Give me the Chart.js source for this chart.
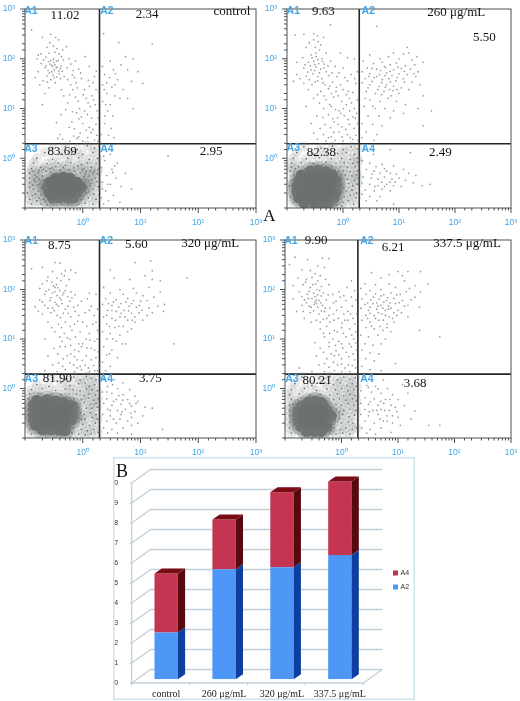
<!DOCTYPE html>
<html>
<head>
<meta charset="utf-8">
<title>Apoptosis flow plots</title>
<script src="https://cdn.jsdelivr.net/npm/chart.js@4/dist/chart.umd.min.js"></script>
<style>
  html, body { margin: 0; padding: 0; background: #fff; }
  body { position: relative; width: 520px; height: 701px; overflow: hidden; }
  canvas { position: absolute; display: block; }
</style>
</head>
<body>
<canvas id="panelControl"></canvas>
<canvas id="panel260"></canvas>
<canvas id="panel320"></canvas>
<canvas id="panel3375"></canvas>
<canvas id="stackChart"></canvas>
<script>
// ---- data ----
const tickValues = [1, 10, 100, 1000];
const tickLabels = ['10⁰', '10¹', '10²', '10³'];
const gate = 1.95;

const quadrantNames = ['A1', 'A2', 'A3', 'A4'];
const controlPercents = ['11.02', '2.34', '83.69', '2.95'];
const percents260 = ['9.63', '5.50', '82.38', '2.49'];
const percents320 = ['8.75', '5.60', '81.90', '3.75'];
const percents3375 = ['9.90', '6.21', '80.21', '3.68'];

const categories = ['control', '260 μg/mL', '320 μg/mL', '337.5 μg/mL'];
const a2Values = [2.34, 5.5, 5.6, 6.21];
const a4Values = [2.95, 2.49, 3.75, 3.68];

const controlSparse = [
  [.13,380],[.2,270],[.28,310],[.34,270],[.38,240],[.27,210],[.31,180],[.24,170],[.36,160],[.45,150],[.52,175],[.19,125],[.26,130],[.33,135],[.39,125],[.43,110],[.16,100],[.21,95],[.28,92],[.31,98],[.35,90],[.46,95],[.58,100],[.19,80],[.23,72],[.27,78],[.3,70],[.33,75],[.36,68],[.42,72],[.62,78],[.75,90],[1.1,110],[.17,55],[.25,58],[.29,55],[.32,60],[.39,50],[.44,56],[.68,58],[.85,62],[1.3,70],[.15,42],[.24,45],[.28,38],[.32,42],[.41,40],[.55,38],[.72,42],[.95,40],[1.6,44],[.18,30],[.26,26],[.43,24],[.62,30],[.8,26],[1.3,28],[1.7,24],[.22,20],[.47,18],[.75,17],[1.15,16],[1.45,18],[.2,12],[.55,13],[.88,10],[1.35,11],[1.65,12],[.42,7.5],[.78,8.2],[.95,6.8],[1.2,7.6],[1.85,6.5],[.35,5.2],[.65,5.4],[1,5],[1.3,4.2],[1.7,4.8],[.4,3],[.7,2.8],[.9,3.2],[1.4,3.3],[1.75,2.9],[.45,2.4],[.6,2.2],[.8,2.5],[1,2.2],[1.6,2.3],
  [2.3,320],[4.2,210],[16,200],[5.5,110],[7.5,100],[3,90],[4.6,75],[2.2,70],[3.4,60],[9,55],[2.4,48],[2.9,42],[4,38],[7,35],[11,32],[2.2,30],[3.2,27],[5,24],[2.6,20],[3.6,18],[6,16],[2.2,14],[3,12],[2.7,9],[7.5,10],[3.3,7],[2.4,5],[3.1,4],[2.1,3],[3.5,2.6],
  [2.2,1.6],[3,1.2],[2.4,.9],[4,.8],[2.1,.65],[3.2,.6],[5.5,.5],[2.6,.45],[3.8,.4],[2.2,.33],[3,.3],[4.6,.27],[7,.24],[2.5,.22],[3.4,.18],[2.1,.16],[2.8,.14],[4.4,.13],[2.3,.12],[30,1.1]
];
const controlExtra = [
  [.17,118],[.23,108],[.255,88],[.29,74],[.315,84],[.345,66],[.375,92],[.41,64],[.265,52],[.225,66],[.305,47],[.355,43],[.385,57],[.205,36],[.245,34],[.335,33],[.475,44],[.535,66],[.66,47],[.77,33],[.92,52],[1.07,24],[1.25,37],[1.52,33],[1.72,56],[1.88,22],[.59,19],[.67,24],[.83,14],[1.02,19],[1.24,13],[1.55,15],[1.78,9],[.51,9.5],[.66,8.6],[.86,6.2],[1.08,9],[1.42,6.4],[.72,3.9],[.58,4.2],[1.15,3.7],[1.5,3.8],[.85,2.7],[1.22,2.6],[.37,2.5],[1.85,2.2],[2.6,33],[3.7,50],[2.35,24],[4.4,16],[2.5,12],[3.6,30],[6,60],[2.8,2.9],[2.4,7],[2.3,1.1],[3.6,.7],[2.7,.3],[2.2,.24],[3.3,.52]
];
const controlFringe = [
  [.3,1.6],[.5,1.7],[.8,1.5],[1.2,1.8],[1.6,1.6],[.22,1.3],[.42,1.2],[.65,1.3],[1,1.2],[1.5,1.3],[.16,1],[.3,.95],[.55,1],[.85,1.02],[1.3,.95],[1.8,1],[.14,.8],[.24,.78],[.38,.8],[.62,.82],[.95,.75],[1.2,.8],[1.7,.78],[.13,.62],[.19,.66],[.3,.64],[.46,.66],[.7,.64],[1.05,.62],[1.4,.66],[1.85,.6],[.12,.5],[.17,.52],[.23,.55],[.9,.52],[1.15,.54],[1.5,.5],[1.8,.48],[.12,.4],[.16,.42],[.2,.44],[1.05,.42],[1.3,.44],[1.65,.4],[.12,.32],[.15,.34],[.18,.3],[1.1,.33],[1.4,.31],[1.75,.34],[.12,.26],[.14,.24],[.19,.25],[1.2,.26],[1.5,.24],[1.85,.27],[.11,.2],[.15,.19],[.19,.18],[1.15,.2],[1.55,.19],[.12,.15],[.16,.14],[.21,.15],[.95,.15],[1.25,.16],[1.7,.15],[.13,.12],[.19,.12],[.28,.125],[.42,.12],[.62,.125],[.85,.12],[1.1,.125],[1.5,.12],[.24,.115],[.35,.13],[.5,.13],[.75,.135],
  [.135,.55],[.15,.46],[.175,.57],[.21,.6],[.27,.62],[.34,.68],[.41,.58],[.5,.72],[.58,.6],[.72,.56],[.82,.7],[.98,.58],[.145,.37],[.175,.38],[.2,.36],[.135,.29],[.165,.29],[.2,.28],[.215,.22],[.17,.22],[.135,.18],[.175,.16],[.22,.135],[.31,.118],[.45,.135],[.56,.118],[.7,.13],[.8,.14],[.9,.18],[1.02,.17],[1.05,.22],[1.25,.21],[1.35,.28],[1.15,.37],[1.25,.35],[1.42,.37],[1.1,.47],[1.35,.56],[1.6,.55],[.28,.52]
];
const controlCore = [
  [.34,.4],[.46,.42],[.6,.4],[.26,.33],[.34,.33],[.46,.33],[.6,.33],[.8,.33],[.24,.26],[.34,.26],[.46,.26],[.6,.26],[.8,.26],[.95,.26],[.26,.2],[.34,.2],[.46,.2],[.6,.2],[.8,.2],[.3,.16],[.4,.16],[.55,.16],[.7,.16]
];
const controlSpecks = [[.32,.36],[.5,.3],[.7,.28],[.42,.22],[.62,.18],[.28,.24],[.85,.34],[.37,.17]];

const sparse260 = [
  [.2,310],[.3,320],[.35,290],[.45,270],[.6,480],[.14,300],[.3,240],[.36,220],[.4,190],[.22,170],[.32,170],[.38,150],[.5,130],[.9,130],[.19,105],[.27,120],[.33,110],[.42,100],[.15,85],[.24,85],[.3,90],[.37,80],[.46,78],[.6,90],[1.2,105],[1.6,100],[.2,65],[.27,60],[.33,68],[.4,62],[.5,55],[.72,70],[1,65],[.15,48],[.22,45],[.29,50],[.36,44],[.42,40],[.56,46],[.85,52],[1.4,48],[1.8,55],[.13,35],[.2,32],[.28,30],[.35,36],[.48,30],[.65,34],[.9,30],[1.2,36],[1.7,32],[.24,24],[.4,22],[.55,25],[.75,22],[1,24],[1.5,21],[.3,16],[.5,15],[.68,17],[.95,14],[1.3,16],[1.8,15],[.22,11],[.45,10],[.62,11],[.85,9],[1.15,12],[1.6,10],[.34,7],[.55,7.5],[.8,6.5],[1.05,7.2],[1.5,6.8],[.27,5],[.48,4.8],[.7,5.4],[.95,4.3],[1.3,4.8],[1.8,5],[.3,3.2],[.45,3],[.62,2.7],[.85,3.4],[1.2,3],[1.7,2.9],[.35,2.4],[.5,2.2],[.55,2.6],[.72,2.3],[1,2.2],[1.5,2.4],
  [4,450],[14,170],[8,130],[12,125],[15,130],[21,110],[3,120],[4.6,100],[6.5,110],[10,100],[17,95],[27,85],[2.3,90],[3.5,80],[5,85],[7,75],[9,82],[13,72],[19,76],[2.7,65],[4,62],[5.8,66],[8,60],[11,64],[16,62],[22,55],[2.2,55],[3,50],[4.5,48],[6,52],[7.5,46],[10,50],[14,48],[20,44],[2.5,40],[3.6,42],[5,38],[6.6,40],[8.8,36],[12,40],[17,34],[24,30],[2.2,33],[3,30],[4.4,28],[6,30],[8,28],[11,26],[15,24],[27,18],[2.6,22],[3.8,20],[5.4,22],[7.2,18],[10,20],[3,15],[4.6,14],[6.4,16],[9,14],[13,12],[22,10],[2.4,11],[3.8,10],[5.6,10],[8,9],[12,8],[38,9],[2.8,7],[4.4,7],[7,6.5],[2.2,5],[3.4,4.8],[5,4.5],[27,4.5],[2.6,3.4],[4,3],[2.2,2.6],[3.6,2.3],
  [2.4,1.6],[3.5,1.2],[7,1.5],[16,1.3],[2.2,.9],[3,.8],[5,.75],[8,.7],[12,.6],[2.6,.6],[3.6,.55],[4.6,.5],[6,.55],[9,.48],[15,.5],[20,.45],[2.3,.42],[3.2,.4],[4.2,.38],[5.5,.42],[7.5,.38],[10,.4],[13,.36],[18,.32],[26,.28],[36,.3],[2.2,.32],[3,.3],[4.2,.28],[6,.3],[8,.28],[11,.27],[2.5,.23],[3.6,.22],[5,.24],[7,.22],[2.2,.19],[3,.17],[4.6,.17],[8,.12],[2.6,.14],[4,.14]
];
const extra260 = [
  [.25,210],[.33,130],[.28,104],[.355,96],[.21,76],[.26,72],[.315,76],[.43,88],[.54,72],[.235,54],[.31,58],[.38,52],[.46,66],[.64,52],[.78,44],[.17,40],[.25,38],[.32,34],[.44,33],[.58,28],[.76,27],[1.08,42],[1.25,22],[1.62,40],[.35,19],[.46,18],[.62,20],[.82,18],[1.15,19],[1.42,13],[.38,13],[.58,12],[.74,9.5],[1.02,10],[1.32,9],[1.75,8],[.44,6.6],[.66,6.2],[.92,8],[1.24,6],[1.66,6.4],[.39,4],[.6,4.1],[.82,4.8],[1.12,3.8],[1.58,4],[.68,3.3],[.96,2.7],[1.35,2.6],[1.85,2.3],
  [3.3,64],[4.7,58],[5.5,70],[6.9,56],[9.6,68],[2.9,44],[4,44],[5.6,46],[7,34],[9.3,42],[12.5,34],[3.3,35],[4.9,33],[6.8,24],[9.2,24],[2.8,26],[4.2,24],[5.7,27],[7.8,23],[3.4,11],[4.9,19],[2.5,16],[12.5,56],[18.5,50],
  [3.9,.68],[5.5,.62],[7,.5],[3.3,.48],[8.5,.33],[4.9,.33],[6.9,.33],[3.7,.27],[5.5,.27]
];
const fringe260 = [
  [.2,1.7],[.4,1.6],[.65,1.75],[1,1.5],[1.4,1.7],[1.8,1.55],[.15,1.3],[.3,1.2],[.5,1.3],[.8,1.25],[1.15,1.3],[1.6,1.2],[.13,1],[.22,.98],[.38,1.02],[.62,.98],[.95,1],[1.35,.95],[1.8,1],[.12,.8],[.18,.82],[.3,.78],[.5,.84],[.75,.8],[1.05,.82],[1.5,.78],[1.85,.84],[.9,.68],[1.2,.66],[1.65,.68],[.12,.66],[.16,.68],[.27,.68],[.42,.7],[.62,.7],[1,.56],[1.35,.54],[1.8,.56],[1.1,.46],[1.45,.44],[1.75,.46],[.95,.4],[1.2,.38],[1.6,.36],[1.85,.4],[.95,.3],[1.25,.31],[1.5,.28],[1.8,.3],[.9,.24],[1.15,.22],[1.45,.23],[1.75,.2],[.85,.18],[1.05,.17],[1.35,.18],[1.7,.16],[.8,.14],[1,.13],[1.25,.14],[1.55,.12],[.75,.115],[.95,.11],
  [.115,.55],[.135,.46],[.12,.36],[.11,.28],[.125,.22],[.115,.17],[.13,.13],[.72,.58],[.84,.55],[.92,.47],[.86,.36],[.92,.28],[1.02,.25],[.84,.22],[.72,.14],[.66,.115],[.5,.105],[.36,.105],[.24,.105],[.14,.62],[.21,.6],[.34,.66],[.48,.62],[.58,.62]
];
const core260 = [
  [.26,.56],[.36,.58],[.5,.54],[.18,.46],[.26,.46],[.36,.46],[.5,.46],[.66,.46],[.16,.36],[.22,.36],[.3,.36],[.42,.36],[.56,.36],[.76,.36],[.15,.28],[.22,.28],[.3,.28],[.42,.28],[.56,.28],[.76,.28],[.15,.21],[.22,.21],[.3,.21],[.42,.21],[.56,.21],[.76,.21],[.16,.16],[.22,.16],[.3,.16],[.42,.16],[.56,.16],[.7,.16],[.2,.125],[.3,.125],[.42,.125],[.56,.125]
];
const specks260 = [[.25,.42],[.35,.33],[.48,.4],[.2,.25],[.37,.18],[.62,.3],[.27,.14],[.6,.19],[.48,.24]];

const sparse320 = [
  [.13,260],[.2,280],[.33,350],[.4,340],[.5,240],[.62,250],[.75,220],[.3,230],[.43,210],[.25,180],[.36,170],[.48,190],[.58,160],[.2,130],[.29,140],[.35,125],[.42,150],[.52,120],[.18,105],[.26,100],[.33,110],[.4,95],[.5,95],[.63,90],[.22,80],[.3,85],[.36,75],[.45,78],[.55,72],[.74,78],[1.3,85],[1.7,80],[.18,62],[.27,60],[.33,55],[.42,62],[.6,58],[.95,58],[1.2,65],[.15,45],[.22,48],[.3,42],[.38,46],[.5,40],[.7,44],[1.4,46],[1.8,40],[.2,32],[.28,34],[.36,30],[.46,33],[.62,28],[.85,30],[1.1,34],[.25,22],[.38,20],[.5,22],[.72,20],[1,22],[1.5,20],[.33,14],[.48,13],[.65,15],[.9,14],[1.3,13],[1.8,15],[.22,10],[.44,9],[.6,10],[.85,8],[1.15,10],[1.6,9],[.32,6.5],[.5,7],[.72,6],[.95,7],[1.4,6.5],[1.85,5.5],[.25,4.5],[.46,4],[.62,5],[.8,3.8],[1.15,4.6],[1.7,4.2],[.3,3],[.45,2.8],[.6,3.3],[.8,2.6],[1.1,3],[1.55,2.9],[1.9,2.6],[.22,2.3],[.36,2.2],[.5,2.4],[.72,2.2],[.95,2.4],[1.3,2.2],[1.8,2.3],
  [8,350],[15,380],[3,250],[12,190],[16,240],[22,150],[64,170],[3.5,170],[6.5,160],[16,160],[2.3,110],[4.4,100],[7.5,105],[14,110],[22,90],[3,85],[5,80],[8.5,85],[11,75],[17,70],[2.5,65],[3.8,62],[6,66],[7.5,60],[10,58],[13,60],[26,50],[2.2,50],[3.2,48],[4.6,52],[6.4,46],[8.5,44],[14,42],[20,46],[25,36],[2.7,38],[3.8,36],[5.2,38],[7,33],[9.5,34],[13,30],[2.3,28],[3.2,26],[4.4,28],[6,24],[8,22],[11,24],[2.6,20],[3.6,17],[5,18],[7,16],[2.2,14],[3,13],[4.4,12],[2.6,10],[3.8,9],[5.5,8],[38,8],[2.3,7],[3.2,6],[2.6,4.8],[4,4.2],[2.2,3.4],[3,2.8],[2.5,2.3],
  [2.3,1.6],[3.5,1.5],[5,1.3],[2.7,1.1],[4,1],[6.5,.95],[2.2,.85],[3.2,.8],[5,.75],[8,.7],[2.6,.62],[3.8,.6],[6,.6],[9,.55],[2.3,.5],[3.2,.46],[4.6,.48],[7,.44],[12,.42],[2.7,.38],[4,.36],[5.5,.38],[8,.34],[16,.4],[2.2,.3],[3,.28],[4.6,.3],[7,.26],[11,.28],[2.6,.22],[3.8,.2],[6,.22],[9,.2],[2.3,.16],[3.2,.15],[5,.16],[24,.15],[2.7,.125],[4,.125],[7,.12]
];
const extra320 = [
  [.24,150],[.31,118],[.37,108],[.23,92],[.28,68],[.33,90],[.4,68],[.47,86],[.65,68],[.2,56],[.25,42],[.35,50],[.44,52],[.55,46],[.82,48],[.17,36],[.32,37],[.41,27],[.56,33],[.74,36],[1.3,38],[1.58,30],[.29,17],[.43,17],[.6,18],[.82,23],[1.18,18],[1.7,22],[.4,11],[.54,10.5],[.75,11],[1,8],[1.35,9.5],[1.78,10],[.4,7],[.62,7.4],[.85,5.6],[1.18,6.6],[1.6,6],[.37,5],[.54,4.6],[.72,4.4],[.98,3.7],[1.4,3.8],[1.9,3.2],[.38,3.3],[.7,3],[.9,2.8],[1.25,2.6],[1.62,2.3],
  [3.4,56],[4.2,44],[5.6,56],[7,52],[9.5,48],[2.8,52],[3.2,38],[4.6,33],[6.2,37],[8,28],[10.5,38],[16,34],[2.6,30],[3.7,24],[5.4,28],[7.2,24],[2.9,18],[4.2,18],[6,14],[3.3,10],[4.8,8],[2.9,5],
  [3.3,1.2],[2.6,.85],[4.2,.72],[6.5,.5],[3.4,.55],[4.9,.58],[8.4,.5],[3,.36],[4.8,.34],[6.8,.32],[3.4,.24],[4.4,.24],[7,.18]
];
const fringe320 = [
  [.3,1.65],[.5,1.55],[.7,1.7],[.9,1.5],[1.15,1.75],[1.4,1.6],[1.7,1.5],[.16,1.2],[.26,1.1],[.42,1.3],[.6,1.15],[.85,1.25],[1.1,1.3],[1.3,1.1],[1.6,1.2],[.13,.95],[.2,1],[.34,.92],[.5,.98],[.68,.95],[.9,.9],[1.15,.98],[1.45,.95],[1.8,.9],[.12,.78],[.17,.8],[.28,.75],[.42,.76],[.58,.78],[.78,.76],[1.05,.72],[1.3,.78],[1.65,.74],[.7,.62],[.95,.6],[1.25,.64],[1.55,.58],[1.85,.62],[.8,.5],[1.05,.52],[1.35,.48],[1.7,.5],[.85,.42],[1.15,.4],[1.45,.4],[1.8,.42],[.8,.33],[1.05,.3],[1.35,.32],[1.7,.3],[.85,.25],[1.1,.24],[1.45,.26],[1.8,.24],[.75,.2],[1,.19],[1.3,.18],[1.65,.2],[.7,.16],[.95,.15],[1.2,.14],[1.55,.15],[1.85,.13],[.65,.125],[.85,.12],[1.1,.115],[1.4,.12],
  [.115,.62],[.115,.48],[.115,.38],[.115,.3],[.115,.24],[.12,.19],[.12,.15],[.13,.12],[.17,.125],[.23,.118],[.31,.12],[.42,.115],[.55,.12],[.62,.16],[.68,.19],[.76,.24],[.76,.3],[.76,.4],[.9,.32],[.95,.24],[.2,.66],[.3,.66],[.4,.64],[.52,.66],[.62,.58]
];
const core320 = [
  [.16,.58],[.24,.6],[.34,.56],[.46,.52],[.14,.47],[.2,.47],[.28,.47],[.38,.47],[.52,.47],[.66,.45],[.14,.37],[.2,.37],[.28,.37],[.38,.37],[.52,.37],[.68,.37],[.14,.29],[.2,.29],[.28,.29],[.38,.29],[.52,.29],[.68,.29],[.14,.23],[.2,.23],[.28,.23],[.38,.23],[.52,.23],[.64,.23],[.15,.18],[.2,.18],[.28,.18],[.38,.18],[.5,.18],[.2,.145],[.28,.145],[.38,.145],[.5,.14]
];
const specks320 = [[.22,.42],[.33,.33],[.46,.4],[.6,.3],[.17,.26],[.3,.21],[.44,.2],[.56,.25],[.24,.16]];

const sparse3375 = [
  [.15,450],[.25,400],[.46,430],[.6,420],[.38,300],[.5,280],[.12,320],[.2,250],[.28,240],[.34,210],[.42,190],[.17,170],[.24,160],[.3,175],[.38,150],[.52,160],[1.5,150],[.14,120],[.21,125],[.28,110],[.35,130],[.44,115],[.6,125],[.9,90],[1.25,110],[1.7,95],[.18,90],[.25,80],[.32,85],[.38,78],[.48,85],[.7,80],[1.1,75],[1.5,70],[.14,65],[.22,62],[.3,66],[.34,56],[.4,60],[.54,62],[.8,58],[1.2,60],[1.8,62],[.2,48],[.27,46],[.33,50],[.38,44],[.46,48],[.62,42],[1,44],[1.55,46],[.16,36],[.28,34],[.4,32],[.5,36],[.72,32],[1.3,36],[1.85,32],[.22,26],[.36,24],[.48,25],[.62,22],[.88,26],[1.15,24],[1.6,26],[.42,16],[.55,18],[.75,15],[1,17],[1.4,16],[1.8,14],[.34,8.5],[.5,11],[.7,10],[.9,9],[1.2,11],[1.65,10],[.42,6.5],[.6,7],[.8,5.8],[1.05,6.6],[1.5,7],[1.85,6],[.36,4.5],[.55,4],[.75,4.6],[1,4],[1.35,4.4],[1.7,3.8],[.18,2.6],[.4,3],[.6,2.7],[.85,3],[1.15,2.6],[1.55,2.9],[.3,2.2],[.5,2.2],[.75,2.3],[1,2.2],[1.4,2.2],
  [3.4,220],[7,200],[10,230],[15,230],[25,230],[5,170],[12,190],[2.6,130],[4,125],[7,130],[13,150],[20,120],[34,130],[2.2,105],[3.2,95],[5,100],[9,110],[16,105],[25,90],[2.7,80],[4,82],[5.6,78],[7.5,85],[11,80],[14,90],[20,70],[2.3,65],[3.3,62],[4.6,64],[6.2,60],[8.5,66],[12,60],[17,62],[2.6,50],[3.6,52],[5,48],[6.8,46],[9,52],[13,46],[24,44],[2.2,42],[3,38],[4.2,40],[6,38],[7.5,42],[10,38],[2.7,30],[3.8,30],[5.2,32],[7,28],[9.5,30],[15,28],[2.3,24],[3.2,22],[4.6,24],[6.4,20],[8.5,22],[24,15],[2.7,17],[3.8,16],[5.4,15],[7.5,14],[2.2,12],[3,11],[4.4,12],[6,10],[55,11],[2.6,8],[3.6,7.5],[5,8],[2.3,6],[3.2,5.2],[4.6,5],[2.7,4],[3.8,3.6],[9,3.2],[2.3,2.8],[3.2,2.4],[5,2.3],
  [2.4,1.6],[3.5,1.4],[5.5,1.5],[2.8,1.15],[4,1.1],[6.5,1],[12,1.2],[2.2,.9],[3.4,.85],[5,.8],[8,.75],[15,.8],[2.6,.65],[3.8,.62],[6,.6],[10,.6],[2.2,.5],[3,.48],[4.4,.46],[5.6,.5],[7.5,.46],[13,.45],[2.6,.38],[3.6,.36],[5,.38],[7,.36],[9.5,.34],[20,.35],[2.2,.3],[3,.28],[4.4,.3],[6.4,.28],[10,.26],[17,.24],[35,.18],[55,.18],[2.6,.22],[3.8,.2],[5.5,.22],[8,.2],[2.3,.16],[3.2,.15],[5,.16],[7.5,.13],[2.8,.125],[4,.12]
];
const extra3375 = [
  [.23,140],[.31,125],[.37,100],[.27,92],[.34,72],[.41,95],[.2,72],[.26,66],[.36,62],[.44,74],[.58,78],[.24,54],[.29,44],[.36,52],[.43,54],[.52,42],[.72,54],[.95,70],[.21,36],[.32,37],[.44,37],[.6,30],[.82,38],[1.1,32],[1.45,32],[.29,22],[.42,22],[.55,26],[.74,24],[1.02,21],[1.3,24],[1.72,20],[.48,13],[.62,13],[.84,14],[1.08,13],[1.52,12],[.6,8.5],[.78,7.4],[1,8],[1.38,8],[1.78,8.4],[.48,5.4],[.66,5],[.9,4.8],[1.22,5.4],[1.6,5],[.5,3.2],[.72,3.4],[1,3.1],[1.32,3],[1.78,2.6],
  [3.7,70],[5,74],[6.6,68],[9.5,78],[2.9,54],[4.2,54],[5.6,56],[7.2,54],[10.5,54],[15,48],[3.2,44],[4.4,46],[5.4,42],[6.8,40],[8.4,34],[11.5,34],[3.2,33],[4.5,34],[6,30],[8,26],[2.9,26],[4,26],[5.5,24],[3.4,18],[4.8,18],[6.4,17],
  [3,1.05],[4.4,.98],[7.2,.6],[3.2,.54],[5,.55],[9,.42],[3.1,.34],[4.2,.36],[5.8,.36],[8,.28],[4.8,.24],[6.4,.22],[11,.18]
];
const fringe3375 = [
  [.2,1.7],[.4,1.6],[.62,1.75],[.85,1.5],[1.1,1.7],[1.4,1.55],[1.75,1.65],[.15,1.25],[.3,1.15],[.5,1.3],[.72,1.2],[.95,1.3],[1.25,1.15],[1.55,1.25],[1.85,1.1],[.13,.95],[.22,1],[.36,.92],[.55,.98],[.78,.95],[1,1],[1.3,.9],[1.65,.95],[.12,.75],[.18,.78],[.28,.72],[.42,.76],[.62,.74],[.85,.78],[1.1,.72],[1.4,.76],[1.75,.72],[.13,.6],[.17,.58],[.72,.6],[.92,.62],[1.2,.58],[1.55,.62],[1.85,.56],[.12,.46],[.14,.48],[.8,.48],[1,.46],[1.3,.5],[1.65,.46],[.12,.36],[.14,.34],[.82,.38],[1.1,.36],[1.4,.38],[1.8,.36],[.12,.28],[.15,.26],[.8,.28],[1.05,.3],[1.35,.27],[1.7,.29],[.12,.21],[.15,.2],[.78,.22],[1,.2],[1.3,.21],[1.6,.2],[.12,.16],[.16,.15],[.72,.16],[.95,.15],[1.2,.16],[1.55,.15],[1.85,.16],[.13,.125],[.2,.12],[.62,.125],[.8,.12],[1.05,.125],[1.4,.12],
  [.16,.48],[.17,.44],[.14,.41],[.14,.3],[.14,.24],[.14,.18],[.17,.145],[.22,.13],[.3,.118],[.42,.12],[.52,.13],[.66,.14],[.7,.19],[.66,.23],[.7,.33],[.66,.42],[.6,.46],[.55,.55],[.44,.62],[.32,.65],[.22,.6],[.92,.34],[.92,.25]
];
const core3375 = [
  [.26,.54],[.34,.56],[.44,.52],[.2,.45],[.27,.45],[.36,.45],[.47,.45],[.17,.36],[.23,.36],[.31,.36],[.41,.36],[.55,.36],[.17,.28],[.23,.28],[.31,.28],[.41,.28],[.55,.28],[.66,.28],[.17,.22],[.23,.22],[.31,.22],[.41,.22],[.55,.22],[.19,.17],[.25,.17],[.33,.17],[.44,.17],[.55,.17],[.24,.135],[.33,.135],[.44,.135]
];
const specks3375 = [[.3,.41],[.39,.32],[.25,.25],[.48,.25],[.34,.19],[.21,.31],[.5,.18]];

// ---- shared drawing helpers ----
const SERIF = '"Liberation Serif", "Times New Roman", serif';
const SANS = '"Liberation Sans", Arial, sans-serif';
const TICK_BLUE = '#45a5e6';

/** Pin an axis to a fixed thickness so the plot area lands where it should. */
function pinAxis(size) {
  return (scale) => {
    if (scale.isHorizontal()) {
      scale.height = size;
    } else {
      scale.width = size;
    }
    scale.paddingLeft = scale.paddingRight = scale.paddingTop = scale.paddingBottom = 0;
  };
}

// frame, log ticks of two lengths and the text inside each flow panel
const flowDecor = {
  id: 'flowDecor',
  afterDraw(chart, args, opts) {
    const { ctx, chartArea: area } = chart;
    ctx.save();
    ctx.strokeStyle = '#4a4f52';
    ctx.lineWidth = 1;
    ctx.strokeRect(area.left, area.top, area.width, area.height);

    chart.scales.x.ticks.forEach((t) => {
      const px = chart.scales.x.getPixelForValue(t.value);
      const len = tickValues.includes(t.value) ? 5 : 2.5;
      ctx.beginPath();
      ctx.moveTo(px, area.bottom);
      ctx.lineTo(px, area.bottom + len);
      ctx.stroke();
    });
    chart.scales.y.ticks.forEach((t) => {
      const py = chart.scales.y.getPixelForValue(t.value);
      const len = tickValues.includes(t.value) ? 5 : 3;
      ctx.beginPath();
      ctx.moveTo(area.left, py);
      ctx.lineTo(area.left - len, py);
      ctx.stroke();
    });

    ctx.textAlign = 'center';
    ctx.textBaseline = 'middle';
    opts.notes.forEach((n) => {
      ctx.font = n.font;
      ctx.fillStyle = n.color;
      ctx.fillText(n.text, n.x - opts.left, n.y - opts.top);
    });
    ctx.restore();
  }
};

/**
 * Build one flow cytometry panel.
 * @param {string} id canvas id
 * @param {Object} box page position of the plot area
 * @param {Array} sparse thin dots
 * @param {Array} fringe dots around the A3 core
 * @param {Array} core dense A3 centre
 * @param {Array} specks white gaps in the core
 * @param {Array} notes text placed on the panel
 */
function createFlowPanel(id, box, sparse, fringe, core, specks, notes) {
  const canvas = document.getElementById(id);
  const left = box.left - 25;
  const top = box.top - 4;
  const width = Math.min(box.right + 9, 520) - left;
  const height = box.bottom + 20 - top;
  canvas.width = width;
  canvas.height = height;
  canvas.style.left = left + 'px';
  canvas.style.top = top + 'px';

  return new Chart(canvas, {
    type: 'scatter',
    data: {
      datasets: [
        { data: fringe, pointRadius: 5, pointBackgroundColor: 'rgba(125,130,129,0.17)', pointBorderWidth: 0 },
        { data: core, pointRadius: 9, pointBackgroundColor: 'rgba(110,114,113,0.3)', pointBorderWidth: 0 },
        { data: core, pointRadius: 5.5, pointBackgroundColor: '#6d7170', pointBorderWidth: 0 },
        { data: fringe, pointRadius: 0.9, pointBackgroundColor: '#6f7372', pointBorderWidth: 0 },
        { data: specks, pointRadius: 0.8, pointBackgroundColor: '#dfe2e2', pointBorderWidth: 0 },
        { data: sparse, pointRadius: 0.85, pointBackgroundColor: '#979c9c', pointBorderWidth: 0 },
        { data: [[gate, 0.1], [gate, 1000]], showLine: true, pointRadius: 0, borderColor: '#23272a', borderWidth: 1.6 },
        { data: [[0.1, gate], [1000, gate]], showLine: true, pointRadius: 0, borderColor: '#23272a', borderWidth: 1.6 }
      ]
    },
    options: {
      responsive: false,
      animation: false,
      layout: { padding: { top: 4, left: 0, right: width - (box.right - left), bottom: 0 } },
      plugins: {
        legend: { display: false },
        tooltip: { enabled: false },
        flowDecor: { notes, left, top }
      },
      scales: {
        x: {
          type: 'logarithmic',
          min: 0.1,
          max: 1000,
          afterFit: pinAxis(20),
          border: { display: false },
          grid: { drawOnChartArea: false, drawTicks: false },
          ticks: {
            autoSkip: false,
            maxRotation: 0,
            padding: 10,
            color: TICK_BLUE,
            font: { family: SANS, size: 8.5 },
            callback: (v) => {
              const i = tickValues.indexOf(v);
              return i >= 0 ? tickLabels[i] : '';
            }
          }
        },
        y: {
          type: 'logarithmic',
          min: 0.1,
          max: 1000,
          afterFit: pinAxis(25),
          border: { display: false },
          grid: { drawOnChartArea: false, drawTicks: false },
          ticks: {
            autoSkip: false,
            padding: 10,
            color: TICK_BLUE,
            font: { family: SANS, size: 8.5 },
            callback: (v) => {
              const i = tickValues.indexOf(v);
              return i >= 0 ? tickLabels[i] : '';
            }
          }
        }
      }
    },
    plugins: [flowDecor]
  });
}

/** Text for a panel: quadrant names, percentages and extras at page positions. */
function panelNotes(namePos, percents, percentPos, extras) {
  const numFont = '13px ' + SERIF;
  const notes = [];
  quadrantNames.forEach((name, i) => {
    notes.push({ text: name, x: namePos[i][0], y: namePos[i][1], font: 'bold 10.5px ' + SANS, color: TICK_BLUE });
    notes.push({ text: percents[i], x: percentPos[i][0], y: percentPos[i][1], font: numFont, color: '#111' });
  });
  extras.forEach((e) => notes.push({ font: numFont, color: '#111', ...e }));
  return notes;
}

createFlowPanel('panelControl', { left: 25, right: 256, top: 4, bottom: 208 }, [...controlSparse, ...controlExtra], controlFringe, controlCore, controlSpecks,
  panelNotes([[31, 11], [107, 11], [31, 149], [107, 149]], controlPercents, [[65, 16], [147, 15], [62, 152], [211, 152]],
    [{ text: 'control', x: 232, y: 12 }]));

createFlowPanel('panel260', { left: 286.7, right: 517.7, top: 4, bottom: 208 }, [...sparse260, ...extra260], fringe260, core260, specks260,
  panelNotes([[293, 11], [368, 11], [293, 148], [368, 149]], percents260, [[323, 12], [484, 38], [321, 153], [440, 153]],
    [{ text: '260 μg/mL', x: 456, y: 13 }, { text: 'A', x: 269, y: 217, font: '17px ' + SERIF }]));

createFlowPanel('panel320', { left: 24.7, right: 256, top: 235, bottom: 438 }, [...sparse320, ...extra320], fringe320, core320, specks320,
  panelNotes([[31, 241], [106, 241], [31, 379], [106, 379]], percents320, [[59, 246], [136, 245], [57, 379], [150, 379]],
    [{ text: '320 μg/mL', x: 210, y: 244 }]));

createFlowPanel('panel3375', { left: 285, right: 516.7, top: 235, bottom: 438 }, [...sparse3375, ...extra3375], fringe3375, core3375, specks3375,
  panelNotes([[291, 241], [367, 241], [292, 379], [367, 379]], percents3375, [[316, 241], [393, 248], [317, 381], [415, 384]],
    [{ text: '337.5 μg/mL', x: 467, y: 244 }]));

// ---- panel B: stacked bars drawn with a fake 3D depth ----
const depth = { wallX: 19, wallY: -13.5, floorDrop: 3.7, barX: 7.3, barY: -5 };
const frontLeft = 131.7 - 113;
const frontRight = 363.3 - 113;

const wallPlugin = {
  id: 'wallPlugin',
  beforeDatasetsDraw(chart) {
    const { ctx } = chart;
    const y = chart.scales.y;
    ctx.save();
    // outer frame
    ctx.strokeStyle = '#cfe4ef';
    ctx.lineWidth = 1.5;
    ctx.strokeRect(0.75, 0.75, chart.width - 1.5, chart.height - 1.5);

    ctx.strokeStyle = '#c3d0d7';
    ctx.lineWidth = 1.3;
    y.ticks.forEach((t) => {
      const py = y.getPixelForValue(t.value) + depth.floorDrop;
      ctx.beginPath();
      ctx.moveTo(frontLeft, py);
      ctx.lineTo(frontLeft + depth.wallX, py + depth.wallY);
      ctx.lineTo(frontRight + depth.wallX, py + depth.wallY);
      ctx.stroke();
      ctx.beginPath();
      ctx.moveTo(frontLeft - 2, py);
      ctx.lineTo(frontLeft, py);
      ctx.stroke();
    });
    const floor = y.getPixelForValue(0) + depth.floorDrop;
    const ceil = y.getPixelForValue(10) + depth.floorDrop;
    ctx.beginPath();
    ctx.moveTo(frontLeft, ceil);
    ctx.lineTo(frontLeft, floor);
    ctx.lineTo(frontRight, floor);
    ctx.lineTo(frontRight + depth.wallX, floor + depth.wallY);
    ctx.stroke();
    ctx.beginPath();
    for (let i = 0; i <= categories.length; i++) {
      const px = frontLeft + (frontRight - frontLeft) * i / categories.length;
      ctx.moveTo(px, floor);
      ctx.lineTo(px, floor + 2.5);
    }
    ctx.stroke();

    // B tag and hand placed legend taken from the datasets
    ctx.fillStyle = '#111';
    ctx.font = '18px ' + SERIF;
    ctx.textBaseline = 'middle';
    ctx.fillText('B', 3, 15);
    ctx.font = '7px ' + SANS;
    [1, 0].forEach((idx, row) => {
      const ds = chart.data.datasets[idx];
      const ly = 573 - 457 + row * 14;
      ctx.fillStyle = ds.backgroundColor;
      ctx.fillRect(393 - 113, ly - 2.5, 5, 5);
      ctx.fillStyle = '#333';
      ctx.fillText(ds.label, 400.5 - 113, ly);
    });
    ctx.restore();
  },
  afterDatasetsDraw(chart) {
    const { ctx } = chart;
    ctx.save();
    chart.data.datasets.forEach((ds, d) => {
      chart.getDatasetMeta(d).data.forEach((bar) => {
        const right = bar.x + bar.width / 2;
        const left = bar.x - bar.width / 2;
        ctx.fillStyle = ds.sideColor;
        ctx.beginPath();
        ctx.moveTo(right, bar.base);
        ctx.lineTo(right + depth.barX, bar.base + depth.barY);
        ctx.lineTo(right + depth.barX, bar.y + depth.barY);
        ctx.lineTo(right, bar.y);
        ctx.closePath();
        ctx.fill();
        if (d === chart.data.datasets.length - 1) {
          ctx.fillStyle = ds.topColor;
          ctx.beginPath();
          ctx.moveTo(left, bar.y);
          ctx.lineTo(left + depth.barX, bar.y + depth.barY);
          ctx.lineTo(right + depth.barX, bar.y + depth.barY);
          ctx.lineTo(right, bar.y);
          ctx.closePath();
          ctx.fill();
        }
      });
    });
    ctx.restore();
  }
};

function createStackChart() {
  const canvas = document.getElementById('stackChart');
  canvas.width = 302;
  canvas.height = 243;
  canvas.style.left = '113px';
  canvas.style.top = '457px';

  return new Chart(canvas, {
    type: 'bar',
    data: {
      labels: categories,
      datasets: [
        { label: 'A2', data: a2Values, backgroundColor: '#4f97f6', sideColor: '#0e3f9e', barPercentage: 0.403, categoryPercentage: 1 },
        { label: 'A4', data: a4Values, backgroundColor: '#c43551', sideColor: '#560a10', topColor: '#7a0c16', barPercentage: 0.403, categoryPercentage: 1 }
      ]
    },
    options: {
      responsive: false,
      animation: false,
      layout: { padding: { top: 22.3, left: 0, right: 46.2, bottom: 0 } },
      plugins: { legend: { display: false }, tooltip: { enabled: false } },
      scales: {
        x: {
          stacked: true,
          afterFit: pinAxis(20.7),
          border: { display: false },
          grid: { display: false },
          ticks: { padding: 1, maxRotation: 0, autoSkip: false, color: '#222', font: { family: SERIF, size: 10 } }
        },
        y: {
          stacked: true,
          min: 0,
          max: 10,
          afterFit: pinAxis(24.2),
          border: { display: false },
          grid: { display: false },
          ticks: { stepSize: 1, padding: 11, labelOffset: 4, color: '#333', font: { family: SANS, size: 7 } }
        }
      }
    },
    plugins: [wallPlugin]
  });
}

createStackChart();
</script>
</body>
</html>
